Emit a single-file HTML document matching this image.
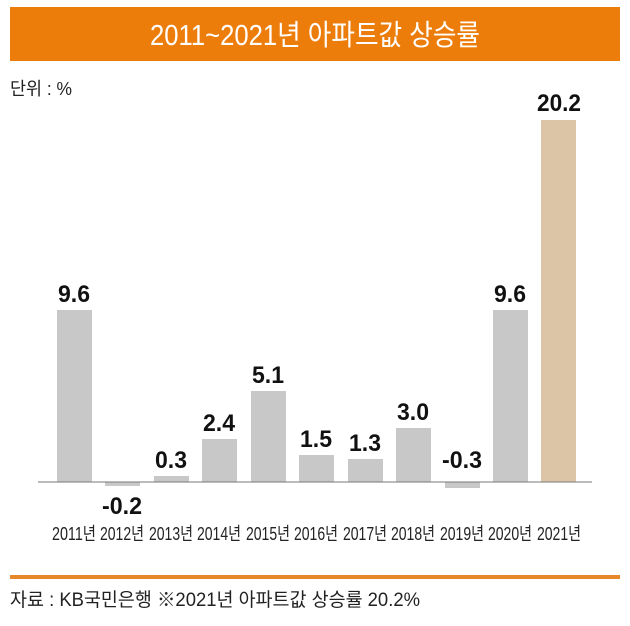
<!DOCTYPE html>
<html><head><meta charset="utf-8"><style>
body{margin:0;background:#fff;width:630px;height:621px;overflow:hidden;font-family:"Liberation Sans","Noto Sans CJK KR",sans-serif;}
</style></head><body>
<svg width="630" height="621" xmlns="http://www.w3.org/2000/svg" font-family="Liberation Sans, Noto Sans CJK KR, sans-serif">
<rect x="10" y="7" width="610" height="54" fill="#ED7D0B"/>
<text x="315" y="45" fill="#fff" font-size="29" text-anchor="middle" textLength="330" lengthAdjust="spacingAndGlyphs">2011~2021년 아파트값 상승률</text>
<text x="10" y="95" font-size="18" fill="#222" textLength="62" lengthAdjust="spacingAndGlyphs">단위 : %</text>
<g fill="#c8c8c8">
<rect x="57" y="310" width="35" height="172"/>
<rect x="105" y="482" width="35" height="4"/>
<rect x="154" y="476" width="35" height="6"/>
<rect x="202" y="439" width="35" height="43"/>
<rect x="251" y="391" width="35" height="91"/>
<rect x="299" y="455" width="35" height="27"/>
<rect x="348" y="459" width="35" height="23"/>
<rect x="396" y="428" width="35" height="54"/>
<rect x="445" y="482" width="35" height="6"/>
<rect x="493" y="310" width="35" height="172"/>
</g>
<rect x="541" y="120" width="35" height="362" fill="#DCC5A6"/>
<line x1="38" y1="482" x2="592" y2="482" stroke="#777" stroke-width="1"/>
<g font-size="24" font-weight="bold" fill="#111" text-anchor="middle">
<text x="74" y="302" textLength="32" lengthAdjust="spacingAndGlyphs">9.6</text>
<text x="122" y="514" textLength="40" lengthAdjust="spacingAndGlyphs">-0.2</text>
<text x="171" y="468" textLength="32" lengthAdjust="spacingAndGlyphs">0.3</text>
<text x="219" y="431" textLength="32" lengthAdjust="spacingAndGlyphs">2.4</text>
<text x="268" y="383" textLength="32" lengthAdjust="spacingAndGlyphs">5.1</text>
<text x="316" y="447" textLength="32" lengthAdjust="spacingAndGlyphs">1.5</text>
<text x="365" y="451" textLength="32" lengthAdjust="spacingAndGlyphs">1.3</text>
<text x="413" y="420" textLength="32" lengthAdjust="spacingAndGlyphs">3.0</text>
<text x="462" y="468" textLength="40" lengthAdjust="spacingAndGlyphs">-0.3</text>
<text x="510" y="302" textLength="32" lengthAdjust="spacingAndGlyphs">9.6</text>
<text x="559" y="111" textLength="44" lengthAdjust="spacingAndGlyphs">20.2</text>
</g>
<g font-size="18" fill="#222" text-anchor="middle">
<text x="74" y="540" textLength="44" lengthAdjust="spacingAndGlyphs">2011년</text>
<text x="122" y="540" textLength="44" lengthAdjust="spacingAndGlyphs">2012년</text>
<text x="171" y="540" textLength="44" lengthAdjust="spacingAndGlyphs">2013년</text>
<text x="219" y="540" textLength="44" lengthAdjust="spacingAndGlyphs">2014년</text>
<text x="268" y="540" textLength="44" lengthAdjust="spacingAndGlyphs">2015년</text>
<text x="316" y="540" textLength="44" lengthAdjust="spacingAndGlyphs">2016년</text>
<text x="365" y="540" textLength="44" lengthAdjust="spacingAndGlyphs">2017년</text>
<text x="413" y="540" textLength="44" lengthAdjust="spacingAndGlyphs">2018년</text>
<text x="462" y="540" textLength="44" lengthAdjust="spacingAndGlyphs">2019년</text>
<text x="510" y="540" textLength="44" lengthAdjust="spacingAndGlyphs">2020년</text>
<text x="559" y="540" textLength="44" lengthAdjust="spacingAndGlyphs">2021년</text>
</g>
<rect x="10" y="575" width="610" height="4" fill="#E8872A"/>
<text x="10" y="606" font-size="19" fill="#222" textLength="410" lengthAdjust="spacingAndGlyphs">자료 : KB국민은행 ※2021년 아파트값 상승률 20.2%</text>
</svg>
</body></html>
